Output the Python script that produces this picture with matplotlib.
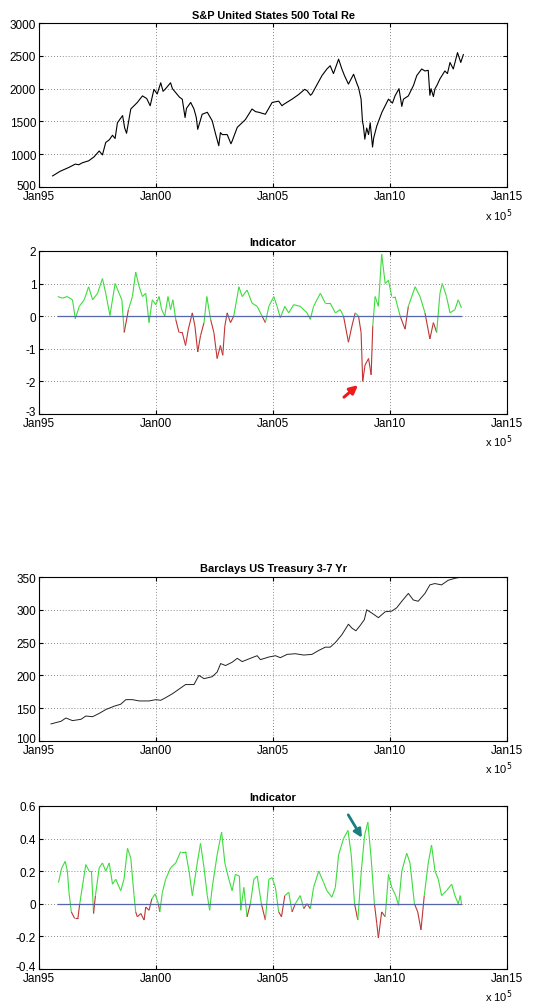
import matplotlib.pyplot as plt
import matplotlib.transforms as mtransforms
import numpy as np
from matplotlib.collections import LineCollection

plt.rcParams['font.family'] = ['Liberation Sans', 'DejaVu Sans']
plt.rcParams['font.size'] = 8

# S&P United States 500 Total Return (decimal year, level)
spx_t = [1995.58, 1995.9, 1996.28, 1996.55, 1996.7, 1996.85, 1997.12, 1997.35, 1997.57, 1997.71,
         1997.85, 1998.0, 1998.14, 1998.25, 1998.35, 1998.57, 1998.66, 1998.74, 1998.92, 1999.2,
         1999.42, 1999.6, 1999.75, 1999.91, 2000.05, 2000.2, 2000.3, 2000.41, 2000.62, 2000.7,
         2000.84, 2001.0, 2001.12, 2001.24, 2001.3, 2001.48, 2001.62, 2001.72, 2001.78, 2001.97,
         2002.19, 2002.4, 2002.55, 2002.68, 2002.75, 2002.83, 2003.04, 2003.2, 2003.25, 2003.47,
         2003.82, 2004.1, 2004.25, 2004.39, 2004.67, 2004.96, 2005.24, 2005.38, 2005.45, 2005.81,
         2006.09, 2006.35, 2006.45, 2006.6, 2006.66, 2007.09, 2007.3, 2007.44, 2007.58, 2007.8,
         2007.94, 2008.05, 2008.22, 2008.44, 2008.6, 2008.65, 2008.76, 2008.82, 2008.86, 2008.92,
         2009.0, 2009.08, 2009.15, 2009.25, 2009.3, 2009.43, 2009.65, 2009.93, 2010.1, 2010.21,
         2010.38, 2010.5, 2010.57, 2010.78, 2011.0, 2011.14, 2011.35, 2011.49, 2011.63, 2011.7,
         2011.75, 2011.85, 2011.92, 2012.0, 2012.13, 2012.34, 2012.45, 2012.56, 2012.7, 2012.88,
         2013.02, 2013.13]
spx_v = [670, 740, 800, 850, 840, 870, 900, 960, 1050, 990,
         1180, 1220, 1290, 1240, 1480, 1590, 1400, 1320, 1690, 1790,
         1890, 1850, 1740, 1990, 1920, 2090, 1960, 2000, 2090, 2000,
         1940, 1870, 1840, 1560, 1700, 1790, 1690, 1560, 1380, 1610,
         1640, 1510, 1300, 1130, 1330, 1300, 1300, 1160, 1200, 1410,
         1530, 1690, 1650, 1640, 1610, 1790, 1810, 1740, 1760, 1840,
         1910, 1990, 1970, 1900, 1920, 2200, 2300, 2350, 2230, 2450,
         2300, 2200, 2070, 2220, 2060, 2020, 1840, 1500, 1430, 1230,
         1400, 1300, 1480, 1110, 1250, 1430, 1640, 1840, 1780, 1890,
         2000, 1730, 1840, 1890, 2050, 2200, 2300, 2270, 2280, 1900,
         2000, 1880, 2000, 2050, 2150, 2270, 2230, 2400, 2300, 2550,
         2400, 2520]

# Indicator for S&P
ind1_t = [1995.8, 1996.0, 1996.2, 1996.43, 1996.55, 1996.72, 1996.93, 1997.12, 1997.29, 1997.5,
          1997.71, 1997.85, 1998.03, 1998.25, 1998.42, 1998.54, 1998.64, 1998.82, 1998.99, 1999.13,
          1999.28, 1999.42, 1999.56, 1999.7, 1999.84, 1999.99, 2000.13, 2000.24, 2000.37, 2000.51,
          2000.62, 2000.72, 2000.84, 2000.98, 2001.12, 2001.26, 2001.38, 2001.55, 2001.66, 2001.78,
          2001.9, 2002.05, 2002.17, 2002.33, 2002.47, 2002.61, 2002.75, 2002.85, 2002.94, 2003.04,
          2003.18, 2003.32, 2003.54, 2003.68, 2003.89, 2004.1, 2004.32, 2004.53, 2004.67, 2004.82,
          2005.03, 2005.17, 2005.31, 2005.5, 2005.67, 2005.88, 2006.16, 2006.45, 2006.59, 2006.73,
          2007.02, 2007.23, 2007.44, 2007.66, 2007.87, 2008.01, 2008.22, 2008.37, 2008.51, 2008.65,
          2008.76, 2008.83, 2008.93, 2009.08, 2009.19, 2009.26, 2009.36, 2009.5, 2009.64, 2009.79,
          2009.93, 2010.07, 2010.21, 2010.43, 2010.64, 2010.78, 2011.07, 2011.28, 2011.49, 2011.7,
          2011.85, 2011.99, 2012.13, 2012.23, 2012.41, 2012.56, 2012.77, 2012.91, 2013.05]
ind1_v = [0.6, 0.55, 0.6, 0.5, -0.08, 0.3, 0.5, 0.9, 0.5, 0.7,
          1.15, 0.7, 0.02, 1.0, 0.7, 0.5, -0.5, 0.2, 0.6, 1.35,
          0.9, 0.6, 0.7, -0.2, 0.5, 0.35, 0.6, 0.2, 0.0, 0.6,
          0.2, 0.5, -0.1, -0.5, -0.5, -0.9, -0.4, 0.1, -0.3, -1.1,
          -0.6, -0.2, 0.6, -0.1, -0.5, -1.3, -0.9, -1.2, -0.3, 0.1,
          -0.2, 0.0, 0.9, 0.6, 0.8, 0.4, 0.3, 0.0, -0.2, 0.3,
          0.6, 0.3, -0.05, 0.3, 0.1, 0.35, 0.3, 0.1, -0.1, 0.3,
          0.7, 0.4, 0.4, 0.1, 0.2, 0.0, -0.8, -0.3, 0.1, 0.0,
          -0.5, -2.0, -1.5, -1.3, -1.8, -0.3, 0.6, 0.3, 1.9, 1.0,
          1.1, 0.6, 0.6, 0.0, -0.4, 0.3, 0.9, 0.6, 0.1, -0.7,
          -0.2, -0.5, 0.7, 1.0, 0.6, 0.1, 0.2, 0.5, 0.25]

# Barclays US Treasury 3-7 Yr
tsy_t = [1995.51, 1995.94, 1996.15, 1996.43, 1996.79, 1997.0, 1997.29, 1997.57, 1997.86, 1998.21,
         1998.49, 1998.71, 1998.99, 1999.28, 1999.7, 1999.99, 2000.2, 2000.41, 2000.7, 2000.98,
         2001.26, 2001.62, 2001.83, 2002.05, 2002.4, 2002.61, 2002.76, 2002.97, 2003.25, 2003.47,
         2003.68, 2003.96, 2004.32, 2004.46, 2004.82, 2005.1, 2005.31, 2005.6, 2005.95, 2006.31,
         2006.66, 2006.95, 2007.23, 2007.44, 2007.66, 2007.94, 2008.22, 2008.37, 2008.54, 2008.72,
         2008.9, 2009.0, 2009.22, 2009.5, 2009.79, 2010.07, 2010.28, 2010.5, 2010.78, 2010.99,
         2011.2, 2011.49, 2011.7, 2011.91, 2012.2, 2012.48, 2012.77, 2013.05]
tsy_v = [126, 130, 135, 131, 133, 138, 137, 142, 148, 153,
         156, 163, 163, 161, 161, 163, 162, 166, 172, 179,
         186, 186, 200, 195, 198, 205, 218, 215, 220, 226,
         221, 225, 230, 224, 228, 230, 227, 232, 233, 231,
         232, 238, 243, 243, 250, 262, 278, 272, 268, 276,
         285, 300, 295, 288, 297, 298, 303, 313, 325, 315,
         313, 325, 338, 340, 338, 345, 348, 350]

# Indicator for Treasury
ind2_t = [1995.83, 1995.97, 1996.12, 1996.21, 1996.28, 1996.38, 1996.52, 1996.66, 1996.74, 1996.9,
          1997.0, 1997.14, 1997.24, 1997.33, 1997.41, 1997.57, 1997.71, 1997.85, 1998.0, 1998.14,
          1998.28, 1998.49, 1998.63, 1998.78, 1998.92, 1999.06, 1999.13, 1999.2, 1999.35, 1999.49,
          1999.56, 1999.7, 1999.82, 1999.96, 2000.1, 2000.16, 2000.27, 2000.41, 2000.62, 2000.84,
          2001.05, 2001.26, 2001.41, 2001.55, 2001.76, 2001.9, 2002.05, 2002.19, 2002.29, 2002.4,
          2002.61, 2002.8, 2002.94, 2003.11, 2003.25, 2003.39, 2003.56, 2003.62, 2003.75, 2003.89,
          2004.03, 2004.18, 2004.32, 2004.5, 2004.67, 2004.82, 2004.96, 2005.1, 2005.24, 2005.36,
          2005.5, 2005.67, 2005.81, 2005.95, 2006.16, 2006.31, 2006.45, 2006.59, 2006.73, 2006.95,
          2007.16, 2007.3, 2007.51, 2007.66, 2007.8, 2008.01, 2008.2, 2008.34, 2008.48, 2008.62,
          2008.77, 2008.91, 2009.05, 2009.19, 2009.33, 2009.43, 2009.5, 2009.64, 2009.79, 2009.93,
          2010.07, 2010.24, 2010.36, 2010.5, 2010.71, 2010.85, 2011.04, 2011.18, 2011.32, 2011.46,
          2011.63, 2011.77, 2011.92, 2012.06, 2012.2, 2012.41, 2012.63, 2012.77, 2012.91, 2013.0,
          2013.05]
ind2_v = [0.13, 0.22, 0.26, 0.2, 0.07, -0.05, -0.09, -0.09, 0.0, 0.15,
          0.24, 0.2, 0.2, -0.06, 0.05, 0.22, 0.25, 0.2, 0.25, 0.12,
          0.15, 0.08, 0.15, 0.34, 0.28, 0.05, -0.05, -0.08, -0.06, -0.1,
          -0.02, -0.04, 0.03, 0.06, 0.0, -0.05, 0.07, 0.15, 0.22, 0.25,
          0.32, 0.32, 0.2, 0.05, 0.25, 0.37, 0.22, 0.05, -0.04, 0.1,
          0.3, 0.44, 0.25, 0.15, 0.08, 0.18, 0.17, -0.04, 0.1, -0.08,
          0.0, 0.15, 0.17, 0.0, -0.1, 0.15, 0.16, 0.1, -0.05, -0.08,
          0.05, 0.07, -0.05, 0.0, 0.05, -0.03, 0.0, -0.03, 0.1, 0.2,
          0.13, 0.08, 0.04, 0.1, 0.3, 0.4, 0.45, 0.3, 0.0, -0.1,
          0.2, 0.42, 0.5, 0.28, 0.0, -0.12, -0.21, -0.05, -0.08, 0.18,
          0.1, 0.05, -0.01, 0.2, 0.31, 0.25, 0.0, -0.05, -0.16, 0.05,
          0.25, 0.36, 0.2, 0.15, 0.05, 0.08, 0.12, 0.05, 0.0, 0.05,
          0.0]

green = '#3ddc3d'
red = '#c03535'


def style_axes(ax, yticks, ylabels, title):
    ax.set_xlim(1995, 2015)
    ax.set_xticks([1995, 2000, 2005, 2010, 2015])
    ax.set_xticklabels(['Jan95', 'Jan00', 'Jan05', 'Jan10', 'Jan15'])
    ax.set_ylim(yticks[0], yticks[-1])
    ax.set_yticks(yticks)
    ax.set_yticklabels(ylabels)
    ax.grid(True, color='#666666', linestyle=(0, (1, 2.5)), linewidth=0.6)
    ax.tick_params(direction='in', length=3, top=True, right=True, labelsize=8.5)
    ax.tick_params(axis='x', pad=2)
    ax.tick_params(axis='y', pad=2)
    for s in ax.spines.values():
        s.set_linewidth(0.8)
    # lift the lowest y label a little so it clears Jan95
    lab = ax.get_yticklabels()[0]
    lab.set_transform(lab.get_transform() +
                      mtransforms.ScaledTranslation(0, 3 / 100, ax.figure.dpi_scale_trans))
    ax.set_title(title, fontsize=7.9, fontweight='bold', pad=4)
    # datenum exponent label as MATLAB shows it
    ax.text(1.012, -0.115, r'x 10$^5$', transform=ax.transAxes, ha='right', va='top', fontsize=8)


def indicator(ax, t, v):
    t = np.asarray(t)
    v = np.asarray(v)
    pts = np.column_stack([t, v]).reshape(-1, 1, 2)
    segs = np.concatenate([pts[:-1], pts[1:]], axis=1)
    mid = (v[:-1] + v[1:]) / 2
    cols = [green if m >= 0 else red for m in mid]
    ax.add_collection(LineCollection(segs, colors=cols, linewidths=0.8))
    ax.plot([t[0], t[-1]], [0, 0], color='#5566aa', linewidth=0.9)


fig = plt.figure(figsize=(5.52, 10.04), dpi=100)
L, W = 0.0707, 0.848

ax1 = fig.add_axes([L, 0.8127, W, 0.1633])
ax1.plot(spx_t, spx_v, color='black', linewidth=0.8)
style_axes(ax1, [500, 1000, 1500, 2000, 2500, 3000],
           ['500', '1000', '1500', '2000', '2500', '3000'], 'S&P United States 500 Total Re')

ax2 = fig.add_axes([L, 0.5867, W, 0.1624])
indicator(ax2, ind1_t, ind1_v)
style_axes(ax2, [-3, -2, -1, 0, 1, 2], ['-3', '-2', '-1', '0', '1', '2'], 'Indicator')
ax2.annotate('', xy=(2008.72, -2.06), xytext=(2007.94, -2.54),
             arrowprops=dict(arrowstyle='-|>', color='#ee1c1c', lw=2.2, mutation_scale=12))

ax3 = fig.add_axes([L, 0.261, W, 0.1633])
ax3.plot(tsy_t, tsy_v, color='#222222', linewidth=0.7)
style_axes(ax3, [100, 150, 200, 250, 300, 350],
           ['100', '150', '200', '250', '300', '350'], 'Barclays US Treasury 3-7 Yr')

ax4 = fig.add_axes([L, 0.0339, W, 0.1624])
indicator(ax4, ind2_t, ind2_v)
style_axes(ax4, [-0.4, -0.2, 0, 0.2, 0.4, 0.6],
           ['-0.4', '-0.2', '0', '0.2', '0.4', '0.6'], 'Indicator')
ax4.annotate('', xy=(2008.86, 0.39), xytext=(2008.15, 0.56),
             arrowprops=dict(arrowstyle='-|>', color='#1b7f80', lw=2.0, mutation_scale=12))

fig.savefig('out.png', dpi=100)
